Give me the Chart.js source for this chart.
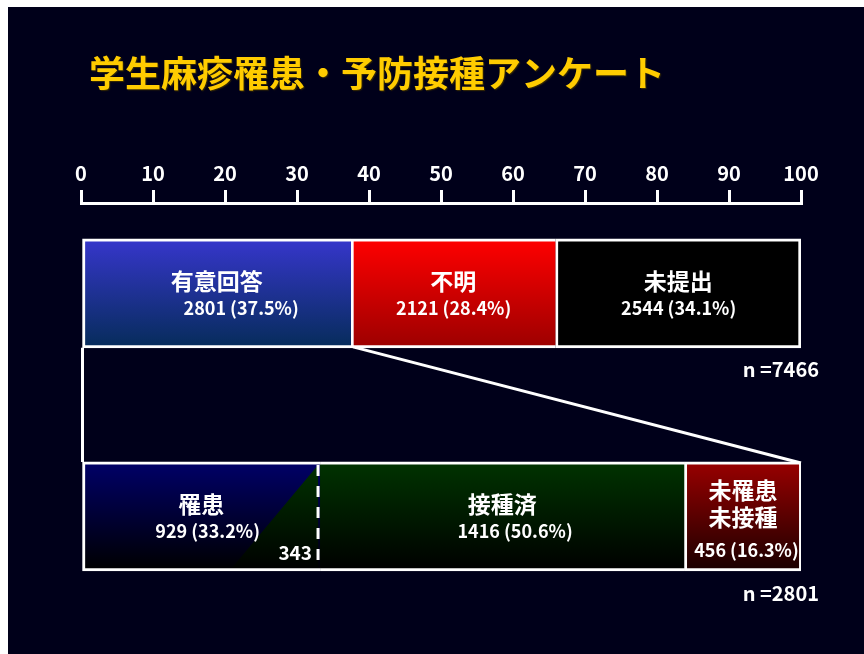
<!DOCTYPE html>
<html lang="ja">
<head>
<meta charset="utf-8">
<title>学生麻疹罹患・予防接種アンケート</title>
<script src="https://cdn.jsdelivr.net/npm/chart.js@4.4.1/dist/chart.umd.min.js"></script>
<style>
  html, body { margin: 0; padding: 0; background: #ffffff; }
  #panel {
    position: absolute; left: 8px; top: 7px;
    width: 856px; height: 647px;
    background: #00001a;
  }
</style>
</head>
<body>
<div id="panel"><canvas id="surveyChart"></canvas></div>
<script>
// All returned questionnaires (n = 7466)
const overallLabels = ['有意回答', '不明', '未提出'];
const overallCounts = [2801, 2121, 2544];
const overallPct = [37.5, 28.4, 34.1];

// Breakdown of the valid answers (n = 2801)
const validLabels = ['罹患', '接種済', '未罹患\n未接種'];
const validCounts = [929, 1416, 456];
const validPct = [33.2, 50.6, 16.3];

// had measles AND were vaccinated (shared by 罹患 / 接種済)
const overlapCount = 343;

const totals = [7466, 2801];
const rows = [1, 2];

const FONT = '"Noto Sans CJK JP", "Noto Sans", sans-serif';
const BAR = 109;

const names = [...overallLabels, ...validLabels];
const counts = [...overallCounts, ...validCounts];
const pcts = [...overallPct, ...validPct];
const rowOf = [rows[0], rows[0], rows[0], rows[1], rows[1], rows[1]];

const fills = [
  ['#3636cc', '#062c5a'],
  ['#ff0000', '#9c0000'],
  ['#000000', '#000000'],
  ['#000068', '#000000'],
  ['#003300', '#000000'],
  ['#990000', '#1a0000']
];
const borders = [
  { top: 3, bottom: 3, left: 3, right: 0 },
  { top: 3, bottom: 3, left: 3, right: 0 },
  { top: 3, bottom: 3, left: 3, right: 3 },
  { top: 3, bottom: 3, left: 3, right: 0 },
  { top: 3, bottom: 3, left: 0, right: 0 },
  { top: 3, bottom: 3, left: 3, right: 3 }
];

// vertical gradient spanning the bar of the given row
const barGradient = (chart, row, top, bottom) => {
  const yc = chart.scales.y ? chart.scales.y.getPixelForValue(row) : NaN;
  if (!isFinite(yc)) return top;
  const g = chart.ctx.createLinearGradient(0, yc - BAR / 2, 0, yc + BAR / 2);
  g.addColorStop(0, top);
  g.addColorStop(1, bottom);
  return g;
};

const datasets = names.map((name, i) => ({
  label: name,
  data: [{ x: pcts[i], y: rowOf[i] }],
  backgroundColor: (ctx) => barGradient(ctx.chart, rowOf[i], fills[i][0], fills[i][1]),
  borderColor: '#ffffff',
  borderWidth: borders[i],
  borderSkipped: false,
  barThickness: BAR
}));

// x nudges for the count lines
const numberNudge = [24, 0, 0, 6, 13, 3];

const annotate = {
  id: 'annotate',
  beforeDatasetsDraw(chart) {
    const { ctx, scales: { x, y } } = chart;
    const top1 = y.getPixelForValue(rows[0]) - BAR / 2;
    const bot1 = top1 + BAR;
    const top2 = y.getPixelForValue(rows[1]) - BAR / 2;

    // connector from the 有意回答 segment down to its breakdown
    ctx.save();
    ctx.strokeStyle = '#ffffff';
    ctx.lineWidth = 3;
    ctx.beginPath();
    ctx.moveTo(x.getPixelForValue(0) + 1.5, bot1);
    ctx.lineTo(x.getPixelForValue(0) + 1.5, top2);
    ctx.moveTo(x.getPixelForValue(overallPct[0]) + 2, bot1 - 1);
    ctx.lineTo(x.getPixelForValue(100), top2 + 1);
    ctx.stroke();
    ctx.restore();
  },
  afterDatasetsDraw(chart) {
    const { ctx, scales: { x, y } } = chart;
    const yc2 = y.getPixelForValue(rows[1]);
    const top2 = yc2 - BAR / 2;
    const bot2 = yc2 + BAR / 2;
    const split = x.getPixelForValue(validPct[0]);
    const overlapPct = overlapCount / totals[1] * 100;

    ctx.save();
    // vaccinated share of the 罹患 group
    ctx.beginPath();
    ctx.moveTo(split - 2, top2 + 3);
    ctx.lineTo(split - 2, bot2 - 3);
    ctx.lineTo(x.getPixelForValue(validPct[0] - overlapPct), bot2 - 3);
    ctx.closePath();
    ctx.fillStyle = barGradient(chart, rows[1], fills[4][0], fills[4][1]);
    ctx.fill();

    // dashed divider between 罹患 and 接種済
    ctx.strokeStyle = '#ffffff';
    ctx.lineWidth = 3;
    ctx.setLineDash([11, 10]);
    ctx.beginPath();
    ctx.moveTo(split - 2, top2 + 3);
    ctx.lineTo(split - 2, bot2);
    ctx.stroke();
    ctx.setLineDash([]);

    ctx.fillStyle = '#ffffff';
    ctx.textBaseline = 'middle';

    // segment names and counts
    chart.data.datasets.forEach((ds, i) => {
      const el = chart.getDatasetMeta(i).data[0];
      const cx = (el.x + el.base) / 2;
      const lines = ds.label.split('\n');
      const nameY = lines.length > 1 ? [-26, 1] : [-12];
      const numY = lines.length > 1 ? 34 : 15;

      ctx.font = 'bold 23px ' + FONT;
      ctx.textAlign = 'center';
      lines.forEach((t, k) => ctx.fillText(t, cx, el.y + nameY[k]));

      const txt = counts[i] + ' (' + pcts[i].toFixed(1) + '%)';
      ctx.font = 'bold 18px ' + FONT;
      ctx.textAlign = 'left';
      const m = ctx.measureText(txt);
      const w = m.actualBoundingBoxRight - m.actualBoundingBoxLeft;
      ctx.fillText(txt, cx - w / 2 + numberNudge[i], el.y + numY);
    });

    ctx.font = 'bold 19px ' + FONT;
    ctx.textAlign = 'right';
    ctx.fillText(String(overlapCount), split - 8, bot2 - 18);

    // sample sizes
    ctx.font = 'bold 20px ' + FONT;
    rows.forEach((r, k) => {
      const yb = y.getPixelForValue(r) + BAR / 2;
      ctx.fillText('n =' + totals[k], x.getPixelForValue(100) + 18, yb + 22);
    });

    // heading
    ctx.textAlign = 'left';
    ctx.font = 'bold 36px ' + FONT;
    ctx.shadowColor = 'rgba(60, 45, 0, 0.9)';
    ctx.shadowOffsetX = 1;
    ctx.shadowOffsetY = 1;
    ctx.shadowBlur = 1;
    ctx.fillStyle = '#ffcc00';
    ctx.fillText('学生麻疹罹患・予防接種アンケート', 81, 66);
    ctx.restore();
  }
};

new Chart(document.getElementById('surveyChart'), {
  type: 'bar',
  data: { datasets },
  options: {
    indexAxis: 'y',
    responsive: true,
    maintainAspectRatio: false,
    animation: false,
    layout: { padding: { top: 149, bottom: 26, left: 73, right: 63 } },
    plugins: {
      legend: { display: false },
      tooltip: { enabled: false }
    },
    scales: {
      x: {
        type: 'linear',
        position: 'top',
        stacked: true,
        min: 0,
        max: 100,
        ticks: {
          stepSize: 10,
          color: '#ffffff',
          padding: 5,
          font: { family: FONT, size: 20, weight: 'bold' }
        },
        grid: {
          drawOnChartArea: false,
          color: '#ffffff',
          lineWidth: 3,
          tickLength: 13
        },
        border: { display: true, color: '#ffffff', width: 3 }
      },
      y: {
        type: 'linear',
        stacked: true,
        reverse: true,
        offset: false,
        min: 0.595,
        max: 2.5,
        display: false
      }
    }
  },
  plugins: [annotate]
});
</script>
</body>
</html>
